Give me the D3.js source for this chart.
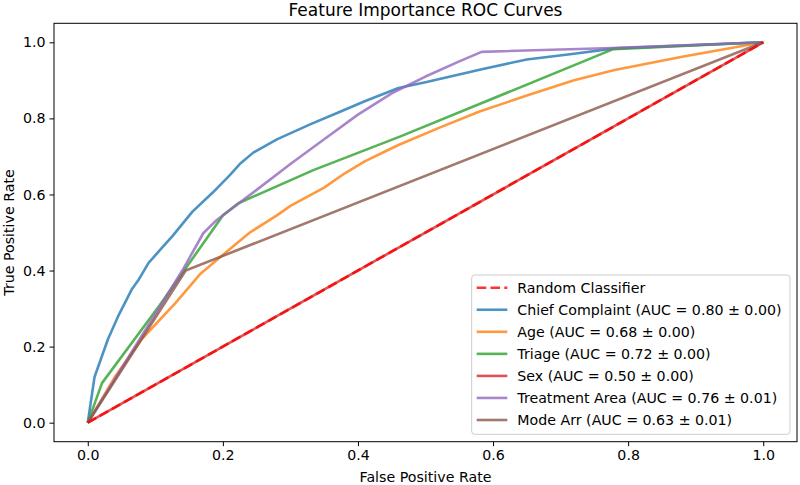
<!DOCTYPE html>
<html>
<head>
<meta charset="utf-8">
<script src="https://cdn.jsdelivr.net/npm/d3@7"></script>
<style>
  body { margin: 0; background: #fff; }
  text { font-family: "DejaVu Sans", sans-serif; fill: #000; }
</style>
</head>
<body>
<svg id="chart" width="800" height="485"></svg>
<script>
const title = "Feature Importance ROC Curves";
const xLabel = "False Positive Rate";
const yLabel = "True Positive Rate";
const xTicks = [0.0, 0.2, 0.4, 0.6, 0.8, 1.0];
const yTicks = [0.0, 0.2, 0.4, 0.6, 0.8, 1.0];

const randomFpr = [0, 1];
const randomTpr = [0, 1];

const chiefFpr = [0, 0.01, 0.02, 0.03, 0.045, 0.065, 0.075, 0.09, 0.11, 0.125, 0.155, 0.185, 0.21, 0.225, 0.245, 0.28, 0.33, 0.37, 0.41, 0.46, 0.5, 0.585, 0.65, 0.72, 0.78, 1];
const chiefTpr = [0, 0.12, 0.17, 0.22, 0.28, 0.35, 0.375, 0.42, 0.46, 0.49, 0.555, 0.605, 0.65, 0.68, 0.71, 0.745, 0.785, 0.815, 0.845, 0.88, 0.895, 0.93, 0.955, 0.97, 0.984, 1];

const ageFpr = [0, 0.04, 0.08, 0.13, 0.166, 0.206, 0.24, 0.28, 0.3, 0.35, 0.38, 0.41, 0.44, 0.46, 0.52, 0.58, 0.65, 0.72, 0.78, 0.88, 1];
const ageTpr = [0, 0.12, 0.22, 0.315, 0.39, 0.45, 0.5, 0.545, 0.57, 0.618, 0.655, 0.687, 0.713, 0.73, 0.775, 0.818, 0.86, 0.9, 0.927, 0.962, 1];

const triageFpr = [0, 0.021, 0.107, 0.2, 0.223, 0.334, 0.462, 0.778, 1];
const triageTpr = [0, 0.104, 0.31, 0.545, 0.577, 0.664, 0.752, 0.982, 1];

const sexFpr = [0, 1];
const sexTpr = [0, 1];

const areaFpr = [0, 0.14, 0.171, 0.191, 0.25, 0.3, 0.35, 0.4, 0.45, 0.5, 0.55, 0.583, 0.778, 1];
const areaTpr = [0, 0.4, 0.498, 0.533, 0.612, 0.68, 0.745, 0.81, 0.866, 0.91, 0.95, 0.975, 0.985, 1];

const modeFpr = [0, 0.145, 1];
const modeTpr = [0, 0.4, 1];

const seriesNames = ["Random Classifier", "Chief Complaint (AUC = 0.80 ± 0.00)", "Age (AUC = 0.68 ± 0.00)", "Triage (AUC = 0.72 ± 0.00)", "Sex (AUC = 0.50 ± 0.00)", "Treatment Area (AUC = 0.76 ± 0.01)", "Mode Arr (AUC = 0.63 ± 0.01)"];
const seriesColors = ["#ff0000", "#1f77b4", "#ff7f0e", "#2ca02c", "#d62728", "#9467bd", "#8c564b"];
const seriesFpr = [randomFpr, chiefFpr, ageFpr, triageFpr, sexFpr, areaFpr, modeFpr];
const seriesTpr = [randomTpr, chiefTpr, ageTpr, triageTpr, sexTpr, areaTpr, modeTpr];

const svg = d3.select("#chart");
const L = 54, R = 797, T = 23.3, B = 441.7;
const x = d3.scaleLinear().domain([-0.05, 1.05]).range([L, R]);
const y = d3.scaleLinear().domain([-0.05, 1.05]).range([B, T]);

const line = d3.line().x(d => x(d[0])).y(d => y(d[1]));

const order = [1, 2, 3, 4, 5, 6, 0];
order.forEach(i => {
  const pts = seriesFpr[i].map((f, k) => [f, seriesTpr[i][k]]);
  svg.append("path")
    .attr("d", line(pts))
    .attr("fill", "none")
    .attr("stroke", seriesColors[i])
    .attr("stroke-width", 2.6)
    .attr("stroke-opacity", 0.8)
    .attr("stroke-linejoin", "round")
    .attr("stroke-dasharray", i === 0 ? "9.6,4.2" : null);
});

const fs = "14.2px";
const xAxis = d3.axisBottom(x).tickValues(xTicks).tickFormat(d3.format(".1f")).tickSize(4.5).tickPadding(4);
const yAxis = d3.axisLeft(y).tickValues(yTicks).tickFormat(d3.format(".1f")).tickSize(4.5).tickPadding(4);
const gx = svg.append("g").attr("transform", `translate(0,${B})`).call(xAxis);
const gy = svg.append("g").attr("transform", `translate(${L},0)`).call(yAxis);
[gx, gy].forEach(g => {
  g.select(".domain").remove();
  g.selectAll("line").attr("stroke", "#000").attr("stroke-width", 1);
  g.selectAll("text").style("font-family", "DejaVu Sans").style("font-size", fs).attr("fill", "#000");
});

svg.append("rect").attr("x", L).attr("y", T).attr("width", R - L).attr("height", B - T)
  .attr("fill", "none").attr("stroke", "#000").attr("stroke-width", 1);

svg.append("text").attr("x", (L + R) / 2).attr("y", 16).attr("text-anchor", "middle")
  .style("font-size", "17px").text(title);
svg.append("text").attr("x", (L + R) / 2).attr("y", 482).attr("text-anchor", "middle")
  .style("font-size", fs).text(xLabel);
svg.append("text").attr("transform", `translate(13.5,${(T + B) / 2}) rotate(-90)`).attr("text-anchor", "middle")
  .style("font-size", fs).text(yLabel);

const lgX = 471.7, lgY = 275, lgW = 318.3, lgH = 159.3;
svg.append("rect").attr("x", lgX).attr("y", lgY).attr("width", lgW).attr("height", lgH)
  .attr("rx", 3).attr("fill", "#fff").attr("fill-opacity", 0.8).attr("stroke", "#cccccc").attr("stroke-width", 1);
seriesNames.forEach((name, i) => {
  const cy = 287.7 + i * 22.05;
  svg.append("line").attr("x1", 476.7).attr("x2", 507.3).attr("y1", cy).attr("y2", cy)
    .attr("stroke", seriesColors[i]).attr("stroke-width", 2.6).attr("stroke-opacity", 0.8)
    .attr("stroke-dasharray", i === 0 ? "9.6,4.2" : null);
  svg.append("text").attr("x", 517.3).attr("y", cy + 5.3).style("font-size", fs).text(name);
});
</script>
</body>
</html>
